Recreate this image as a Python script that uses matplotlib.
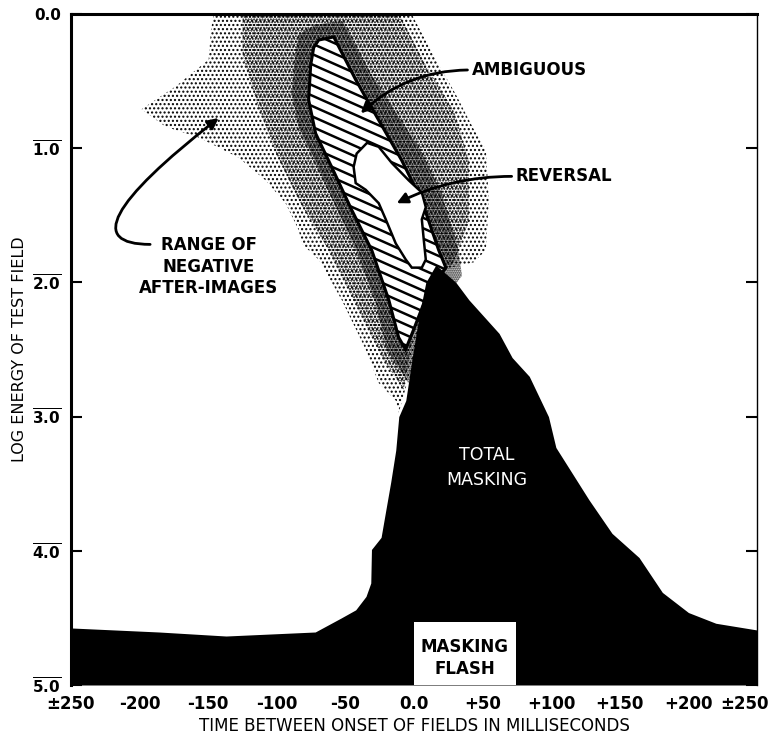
import numpy as np
import matplotlib
matplotlib.use("Agg")
import matplotlib.pyplot as plt
import matplotlib.transforms as mtransforms
from matplotlib.patches import Polygon, Rectangle
from matplotlib.collections import LineCollection

plt.rcParams["font.family"] = ["DejaVu Sans"]
plt.rcParams["mathtext.default"] = "bf"
plt.rcParams["hatch.linewidth"] = 1.0

# ---------------- data (ms, log energy) ----------------
# upper boundary of the "total masking" region
mask_t = [-250, -186, -137, -72, -53, -42.5, -35, -31.5, -31, -24, -20.6, -17,
          -13.3, -11.1, -6, -1.6, 3.5, 8.6, 15.9, 30.5, 40, 62, 71.5, 84, 98,
          103.4, 127.5, 144.3, 164, 181, 200, 220, 250]
mask_e = [4.575, 4.605, 4.635, 4.605, 4.50, 4.44, 4.34, 4.24, 3.99, 3.90, 3.70,
          3.49, 3.25, 3.00, 2.88, 2.58, 2.26, 2.00, 1.87, 2.00, 2.13, 2.38,
          2.56, 2.70, 3.00, 3.23, 3.62, 3.87, 4.05, 4.31, 4.46, 4.54, 4.59]

# masking flash
flash_start = 0
flash_end = 74
flash_top = 4.53

# ambiguous (hatched) region
amb_t = [-69.5, -58.5, -42.5, -25.8, -9, 5.6, 18, 23.2, 10.8, -0.2, -6.1,
         -11.2, -18.4, -30.8, -45.4, -60, -71.7, -76.8, -75.3, -73.1]
amb_e = [0.194, 0.171, 0.49, 0.79, 1.09, 1.39, 1.76, 1.89, 2.06, 2.35, 2.50,
         2.41, 2.13, 1.76, 1.46, 1.14, 0.89, 0.64, 0.38, 0.25]

# reversal (white) region
rev_t = [-34.2, -25.7, -16.2, -3.8, 5.7, 8.6, 5.7, 7.1, 8.6, 5.7, -1.6, -6.0,
         -13.3, -20.6, -25.7, -35.2, -42.5, -44, -41.8]
rev_e = [0.96, 0.99, 1.11, 1.24, 1.33, 1.44, 1.53, 1.68, 1.83, 1.89, 1.89,
         1.83, 1.71, 1.53, 1.41, 1.31, 1.26, 1.14, 1.04]

# range of negative after-images (stippled): outer edge, inner and core bands
stip_t = [-146, -1.7, 15.9, 30.5, 43.6, 52.4, 54.6, 52.4, 43.6, 18, -11.1,
          -13.3, -25.7, -35.2, -52.7, -69.5, -81.9, -84, -93.6, -108.2,
          -127.8, -157, -181, -198.6, -173.8, -149.7, -148]
stip_e = [0.0, 0.0, 0.34, 0.60, 0.86, 1.01, 1.39, 1.76, 1.85, 1.91, 2.97,
          2.88, 2.75, 2.50, 2.13, 1.83, 1.71, 1.61, 1.41, 1.24, 1.07, 0.92,
          0.84, 0.71, 0.54, 0.34, 0.12]
dense_t = [-125, -11.1, 10.8, 29, 40, 40, 29, 3.5, -7.5, -22, -44, -62.2,
           -84, -100, -115, -125]
dense_e = [0.0, 0.0, 0.42, 0.72, 1.09, 1.54, 1.85, 2.13, 2.80, 2.58, 2.13,
           1.76, 1.39, 1.05, 0.65, 0.3]
core_t = [-72, -52, -33, -14, 4, 20, 32, 35, 20, 5, -4, -20, -28, -42, -57,
          -72, -84, -89, -87, -84]
core_e = [0.08, 0.05, 0.42, 0.72, 1.0, 1.33, 1.74, 1.95, 2.15, 2.5, 2.75,
          2.5, 2.15, 1.76, 1.44, 1.1, 0.85, 0.6, 0.33, 0.15]

x_ticks = [-250, -200, -150, -100, -50, 0, 50, 100, 150, 200, 250]
x_labels = ["±250", "-200", "-150", "-100", "-50", "0.0", "+50", "+100",
            "+150", "+200", "±250"]
y_ticks = [0, 1, 2, 3, 4, 5]
y_labels = ["0.0", r"$\overline{1.0}$", r"$\overline{2.0}$",
            r"$\overline{3.0}$", r"$\overline{4.0}$", r"$\overline{5.0}$"]

# ---------------- figure ----------------
W_PX, H_PX = 775, 739
fig = plt.figure(figsize=(W_PX / 100, H_PX / 100), dpi=100)
ax_l, ax_b, ax_w, ax_h = 71, 54, 686, 671
ax = fig.add_axes([ax_l / W_PX, ax_b / H_PX, ax_w / W_PX, ax_h / H_PX])
ax.set_xlim(-250, 250)
ax.set_ylim(5, 0)

# stipple, three densities (different grids so they build up darker)
for pts_t, pts_e, hatch, z in ((stip_t, stip_e, "....", 1.0),
                               (dense_t, dense_e, "......", 1.1),
                               (core_t, core_e, "........", 1.2)):
    ax.add_patch(Polygon(np.column_stack([pts_t, pts_e]), closed=True,
                         facecolor="none", edgecolor="black", lw=0,
                         hatch=hatch, zorder=z))

# ambiguous region with slanted hatching
amb = Polygon(np.column_stack([amb_t, amb_e]), closed=True,
              facecolor="white", edgecolor="black", lw=2.2, zorder=2)
ax.add_patch(amb)
ang = np.deg2rad(24)
gap = 9.5 / np.cos(ang)
segs = []
for c in np.arange(0, ax_h + ax_w * np.tan(ang), gap):
    segs.append([(0, c / ax_h), (1, (c - ax_w * np.tan(ang)) / ax_h)])
lc = LineCollection(segs, colors="black", linewidths=1.8,
                    transform=ax.transAxes, zorder=2.1)
ax.add_collection(lc)
lc.set_clip_path(amb)

# reversal region
rev = Polygon(np.column_stack([rev_t, rev_e]), closed=True,
              facecolor="white", edgecolor="black", lw=1.8, zorder=3)
ax.add_patch(rev)

# total masking
ax.fill_between(mask_t, mask_e, 5, color="black", lw=0, zorder=4)

# masking flash
ax.add_patch(Rectangle((flash_start, flash_top), flash_end - flash_start,
                       5 - flash_top, facecolor="white", edgecolor="none",
                       zorder=5))
ax.text((flash_start + flash_end) / 2, 4.8, "MASKING\nFLASH", ha="center",
        va="center", fontsize=12, fontweight="bold", linespacing=1.25,
        zorder=6)

ax.text(53, 3.38, "TOTAL\nMASKING", ha="center", va="center", color="white",
        fontsize=12.5, linespacing=1.5, zorder=6)

# labels with arrows
arrow_kw = dict(arrowstyle="-|>", color="black", lw=2, mutation_scale=16)
ax.annotate("AMBIGUOUS", xy=(-38.8, 0.74), xytext=(42, 0.417),
            ha="left", va="center", fontsize=12, fontweight="bold", zorder=7,
            arrowprops=dict(**arrow_kw, relpos=(0, 0.5), shrinkA=1, shrinkB=0,
                            connectionstyle="arc3,rad=0.2"))
ax.annotate("REVERSAL", xy=(-12.6, 1.41), xytext=(74.2, 1.21),
            ha="left", va="center", fontsize=12, fontweight="bold", zorder=7,
            arrowprops=dict(**arrow_kw, relpos=(0, 0.5), shrinkA=1, shrinkB=0,
                            connectionstyle="arc3,rad=0.12"))
ax.annotate("RANGE OF\nNEGATIVE\nAFTER-IMAGES", xy=(-142.4, 0.775),
            xytext=(-149.7, 1.885), ha="center", va="center", fontsize=12,
            fontweight="bold", linespacing=1.25, zorder=7,
            arrowprops=dict(**arrow_kw, relpos=(0.08, 0.87), patchA=None,
                            shrinkA=0, shrinkB=0,
                            connectionstyle="angle3,angleA=180,angleB=38"))

# axes styling
ax.set_xticks(x_ticks)
ax.set_xticklabels(x_labels, fontsize=12, fontweight="bold")
ax.set_yticks(y_ticks)
ax.set_yticklabels(y_labels, fontsize=11, fontweight="bold")
ax.tick_params(axis="x", direction="in", length=8, width=1.5, color="white",
               pad=7)
ax.tick_params(axis="y", direction="in", length=8, width=1.5, pad=7,
               right=True)
for side in ("left", "top"):
    ax.spines[side].set_linewidth(2.2)
ax.spines["right"].set_linewidth(1.0)
ax.spines["bottom"].set_visible(False)
for s in ax.spines.values():
    s.set_zorder(8)

# right-hand "±250" sits a little inside the edge
last = ax.get_xticklabels()[-1]
last.set_transform(last.get_transform() + mtransforms.ScaledTranslation(
    -9 / 72, 0, fig.dpi_scale_trans))

ax.set_xlabel("TIME BETWEEN ONSET OF FIELDS IN MILLISECONDS", fontsize=12,
              labelpad=3)
ax.set_ylabel("LOG ENERGY OF TEST FIELD", fontsize=11.5, labelpad=4)

fig.savefig("out.png", dpi=100)
